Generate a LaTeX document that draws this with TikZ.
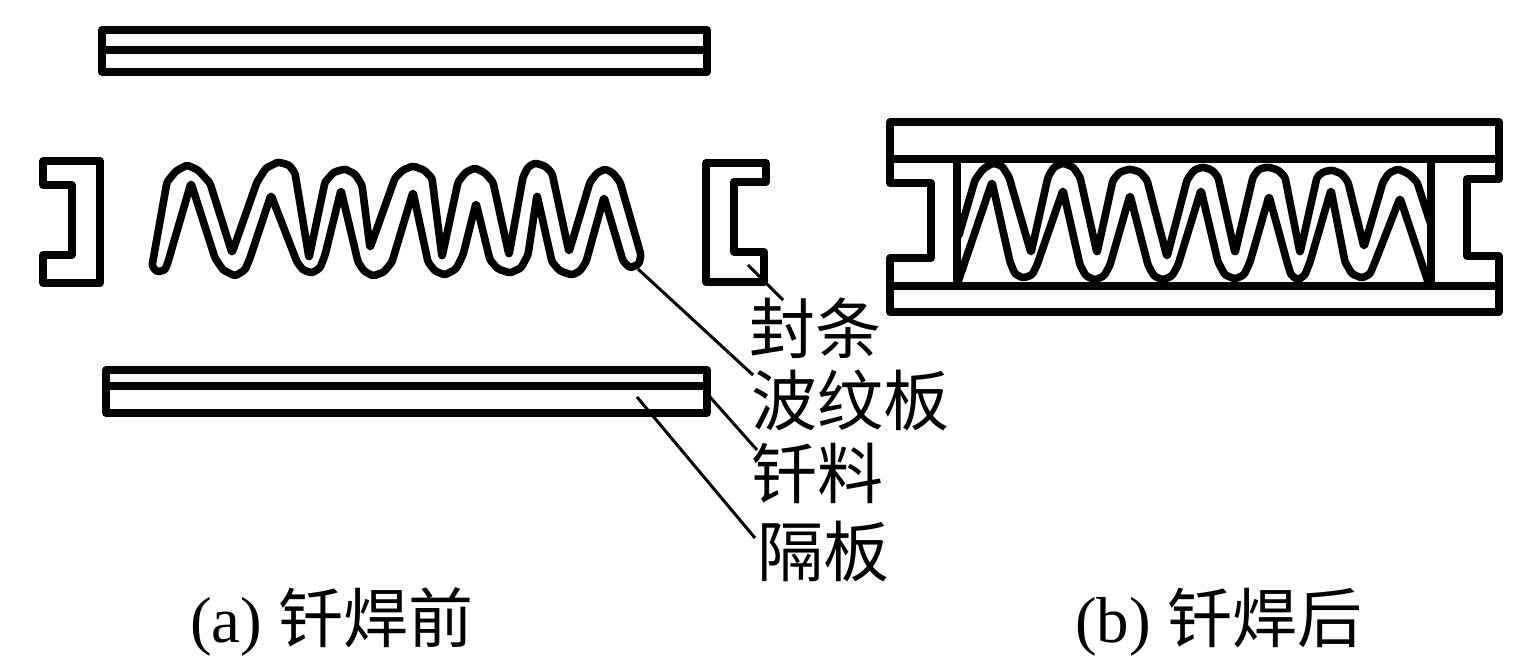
\documentclass[tikz,border=0pt]{standalone}
\usepackage{fontspec}
\setmainfont{Liberation Serif}
\newfontfamily\cjk{Noto Sans CJK SC}
\tikzset{
  part/.style={draw=black,line width=7.6pt,line join=round,line cap=round,fill=none},
  wave/.style={draw=black,line width=7.6pt,line join=round,line cap=round,rounded corners=2.5pt},
  leader/.style={draw=black,line width=3pt},
  lbl/.style={inner sep=0pt,font=\fontsize{66}{66}\selectfont\cjk},
  captext/.style={inner sep=0pt,font=\fontsize{65}{65}\selectfont}
}
\begin{document}
\begin{tikzpicture}[x=1pt,y=-1pt]
\useasboundingbox (0,0) rectangle (1535,661);
\fill[white] (0,0) rectangle (1535,661);
% top plate
\draw[part] (102,30) rectangle (707,72);
\draw[part] (102,50) -- (707,50);
% bottom plate
\draw[part] (106,370) rectangle (707,413);
\draw[part] (106,386) -- (707,386);
% left seal
\draw[part] (43,161) -- (100,161) -- (100,283) -- (43,283) -- (43,255) -- (72,255) -- (72,185) -- (43,185) -- cycle;
% right seal
\draw[part] (706,163) -- (766,163) -- (766,182) -- (734,182) -- (734,252) -- (764,252) -- (764,282) -- (706,282) -- cycle;
% corrugated sheet, before brazing
\draw[wave] (152,266) -- (167,182) -- (176,171) -- (187,165) -- (198,170) -- (210,183) -- (232,253)
 -- (257,182) -- (266,168) -- (278,162) -- (289,165) -- (295,173) -- (309,258)
 -- (325,182) -- (334,172) -- (345,169) -- (355,174) -- (362,185) -- (370,248)
 -- (395,178) -- (403,170) -- (413,166) -- (424,170) -- (432,178) -- (442,257)
 -- (458,182) -- (466,172) -- (475,168) -- (485,173) -- (493,182) -- (509,255)
 -- (523,177) -- (528,167) -- (535,163) -- (545,166) -- (552,173) -- (569,252)
 -- (590,182) -- (597,173) -- (605,169) -- (613,173) -- (620,182) -- (641,255)
 -- (639,264) -- (630,268) -- (623,261)
 -- (604,197) -- (586,262) -- (580,271) -- (572,275) -- (560,271) -- (552,262)
 -- (537,195) -- (528,255) -- (521,268) -- (510,273) -- (498,269) -- (490,260)
 -- (476,203) -- (463,255) -- (456,269) -- (445,275) -- (435,271) -- (428,262)
 -- (413,192) -- (392,262) -- (384,272) -- (373,276) -- (364,271) -- (358,262)
 -- (341,190) -- (325,255) -- (320,268) -- (312,273) -- (303,270) -- (297,262)
 -- (271,195) -- (250,258) -- (245,270) -- (235,276) -- (223,270) -- (215,258)
 -- (191,183) -- (168,262) -- (165,270) -- (157,272) -- cycle;
% assembly after brazing
\draw[part] (890,122) -- (1499,122) -- (1499,179) -- (1467,179) -- (1467,256) -- (1499,256) -- (1499,312)
 -- (890,312) -- (890,258) -- (931,258) -- (931,183) -- (890,183) -- cycle;
\draw[part,line cap=butt] (890,159) -- (1499,159);
\draw[part,line cap=butt] (890,286) -- (1499,286);
\draw[part,line cap=butt] (957,159) -- (957,286);
\draw[part,line cap=butt] (1431,159) -- (1431,286);
% corrugated sheet, after brazing
\draw[wave] (959,235) -- (975,180) -- (983,169) -- (993,163) -- (1002,166) -- (1009,177) -- (1031,253)
 -- (1048,177) -- (1054,167) -- (1063,163) -- (1073,167) -- (1080,177) -- (1097,253)
 -- (1113,180) -- (1120,172) -- (1130,169) -- (1140,172) -- (1147,180) -- (1167,257)
 -- (1187,180) -- (1194,170) -- (1203,167) -- (1212,170) -- (1218,177) -- (1235,253)
 -- (1253,177) -- (1259,169) -- (1268,167) -- (1278,170) -- (1285,177) -- (1300,253)
 -- (1317,177) -- (1323,172) -- (1332,170) -- (1342,174) -- (1348,182) -- (1364,247)
 -- (1383,182) -- (1389,173) -- (1398,169) -- (1409,174) -- (1417,182) -- (1431,225);
\draw[wave] (958,282) -- (992,182) -- (1010,262) -- (1015,274) -- (1023,278) -- (1032,275) -- (1037,265)
 -- (1063,190) -- (1080,265) -- (1086,276) -- (1095,280) -- (1104,276) -- (1110,265)
 -- (1130,195) -- (1148,265) -- (1154,276) -- (1163,280) -- (1172,276) -- (1178,265)
 -- (1201,190) -- (1218,262) -- (1225,275) -- (1235,279) -- (1244,275) -- (1250,262)
 -- (1269,196) -- (1287,262) -- (1291,275) -- (1298,280) -- (1305,275) -- (1310,262)
 -- (1331,190) -- (1345,262) -- (1352,274) -- (1362,278) -- (1370,274) -- (1375,262)
 -- (1400,198) -- (1428,282);
% labels
\node[lbl] (seal) at (815,328) {封条};
\node[lbl] (sheet) at (850,400) {波纹板};
\node[lbl] (solder) at (817,473) {钎料};
\node[lbl] (plate) at (823,551) {隔板};
\node[captext,anchor=west] (capa) at (190,622) {(a) {\cjk 钎焊前}};
\node[captext,anchor=west] (capb) at (1075,622) {(b) {\cjk 钎焊后}};
% leaders
\coordinate (sealtip) at (748,265);
\coordinate (sealend) at (783,300);
\coordinate (sheettip) at (638,269);
\coordinate (sheetend) at (753,375);
\coordinate (soldertip) at (710,397);
\coordinate (solderend) at (757,450);
\coordinate (platetip) at (637,397);
\coordinate (plateend) at (755,538);
\draw[leader] (sealtip) -- (sealend);
\draw[leader] (sheettip) -- (sheetend);
\draw[leader] (soldertip) -- (solderend);
\draw[leader] (platetip) -- (plateend);
\end{tikzpicture}
\end{document}
